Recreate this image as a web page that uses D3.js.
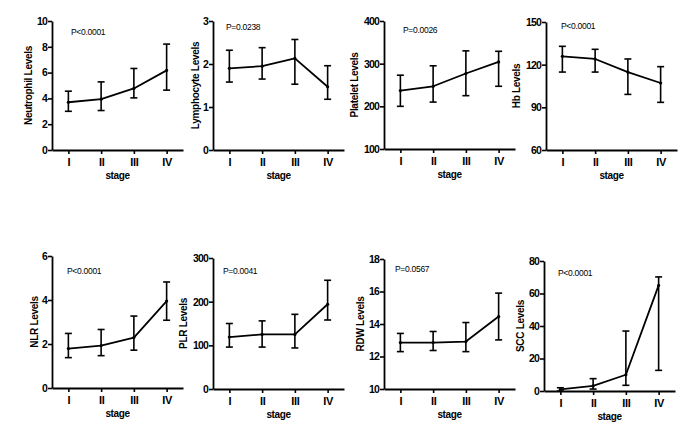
<!DOCTYPE html>
<html>
<head>
<meta charset="utf-8">
<script src="https://cdn.jsdelivr.net/npm/d3@7"></script>
<style>
  html, body { margin: 0; padding: 0; background: #fff; }
  svg { display: block; }
  text { font-family: "Liberation Sans", Arial, sans-serif; fill: #000; }
</style>
</head>
<body>
<svg id="chart" width="700" height="444"></svg>
<script>
// ---------- data ----------
const stages = ["I", "II", "III", "IV"];

const titles = ["Neutrophil Levels", "Lymphocyte Levels", "Platelet Levels", "Hb Levels",
                "NLR Levels", "PLR Levels", "RDW Levels", "SCC Levels"];
const pValues = ["P<0.0001", "P=0.0238", "P=0.0026", "P<0.0001",
                 "P<0.0001", "P=0.0041", "P=0.0567", "P<0.0001"];

const yDomains = [[0, 10], [0, 3], [100, 400], [60, 150],
                  [0, 6], [0, 300], [10, 18], [0, 80]];
const yTicks = [[0, 2, 4, 6, 8, 10], [0, 1, 2, 3], [100, 200, 300, 400], [60, 90, 120, 150],
                [0, 2, 4, 6], [0, 100, 200, 300], [10, 12, 14, 16, 18], [0, 20, 40, 60, 80]];

const neutrophilMean  = [3.70, 3.94, 4.77, 6.17];
const neutrophilUpper = [4.56, 5.28, 6.32, 8.21];
const neutrophilLower = [3.00, 3.06, 4.04, 4.64];

const lymphocyteMean  = [1.90, 1.95, 2.13, 1.47];
const lymphocyteUpper = [2.32, 2.38, 2.57, 1.96];
const lymphocyteLower = [1.58, 1.65, 1.53, 1.18];

const plateletMean  = [237, 247, 277, 304];
const plateletUpper = [273, 295, 330, 329];
const plateletLower = [200, 210, 225, 247];

const hbMean  = [125.9, 124.0, 114.8, 107.1];
const hbUpper = [132.9, 130.8, 124.0, 118.6];
const hbLower = [114.8, 114.8, 99.1, 93.5];

const nlrMean  = [1.79, 1.93, 2.29, 3.95];
const nlrUpper = [2.48, 2.66, 3.27, 4.82];
const nlrLower = [1.38, 1.47, 1.72, 3.08];

const plrMean  = [119, 125, 125, 194];
const plrUpper = [150, 156, 171, 249];
const plrLower = [96, 96, 94, 158];

const rdwMean  = [12.86, 12.86, 12.92, 14.46];
const rdwUpper = [13.42, 13.54, 14.09, 15.90];
const rdwLower = [12.30, 12.37, 12.30, 13.02];

const sccMean  = [1.0, 3.1, 10.0, 65.0];
const sccUpper = [2.0, 7.6, 36.9, 70.2];
const sccLower = [0.0, 1.2, 3.5, 12.7];

const means  = [neutrophilMean, lymphocyteMean, plateletMean, hbMean, nlrMean, plrMean, rdwMean, sccMean];
const uppers = [neutrophilUpper, lymphocyteUpper, plateletUpper, hbUpper, nlrUpper, plrUpper, rdwUpper, sccUpper];
const lowers = [neutrophilLower, lymphocyteLower, plateletLower, hbLower, nlrLower, plrLower, rdwLower, sccLower];

// ---------- layout (positions only) ----------
const panelLayout = [
  { left: 52,  top: 21,  bottom: 150, px: 19, py: 11 },
  { left: 213, top: 21,  bottom: 150, px: 13, py: 6 },
  { left: 384, top: 21,  bottom: 149, px: 19, py: 9 },
  { left: 546, top: 22,  bottom: 150, px: 15, py: 4 },
  { left: 52,  top: 256, bottom: 388, px: 15, py: 15 },
  { left: 213, top: 258, bottom: 389, px: 10, py: 13 },
  { left: 384, top: 259, bottom: 389, px: 11, py: 10 },
  { left: 544, top: 261, bottom: 391, px: 14, py: 12 }
];
const axisWidth = 131;

const svg = d3.select("#chart");

panelLayout.forEach((L, k) => {
  const g = svg.append("g").attr("transform", `translate(${L.left},0)`);
  const x = d3.scaleLinear().domain([0.5, 4.5]).range([0, axisWidth]);
  const y = d3.scaleLinear().domain(yDomains[k]).range([L.bottom, L.top]);

  // y axis
  const ya = g.append("g")
    .call(d3.axisLeft(y).tickValues(yTicks[k]).tickFormat(d => String(d))
      .tickSize(4).tickSizeOuter(0).tickPadding(1));
  // x axis
  const xa = g.append("g").attr("transform", `translate(0,${L.bottom})`)
    .call(d3.axisBottom(x).tickValues([1, 2, 3, 4]).tickFormat(i => stages[i - 1])
      .tickSize(4).tickSizeOuter(0).tickPadding(4));

  [ya, xa].forEach(a => {
    a.select(".domain").attr("stroke", "#000").attr("stroke-width", 1.8);
    a.selectAll(".tick line").attr("stroke", "#000").attr("stroke-width", 1.6);
    a.selectAll("text").attr("fill", "#000")
      .style("font-family", '"Liberation Sans", Arial, sans-serif')
      .style("font-weight", "bold");
  });
  ya.selectAll("text").style("font-size", "10.5px").style("letter-spacing", "-0.8px");
  xa.selectAll("text").style("font-size", "11px").style("letter-spacing", "-0.3px");

  // data
  const idx = [0, 1, 2, 3];
  const line = d3.line().x(i => x(i + 1)).y(i => y(means[k][i]));
  g.append("path").datum(idx).attr("d", line)
    .attr("fill", "none").attr("stroke", "#000").attr("stroke-width", 1.8)
    .attr("stroke-linejoin", "round");

  const eb = g.append("g").attr("stroke", "#000").attr("stroke-width", 1.6).attr("fill", "none");
  idx.forEach(i => {
    const cx = x(i + 1), yt = y(uppers[k][i]), yb = y(lowers[k][i]);
    eb.append("line").attr("x1", cx).attr("x2", cx).attr("y1", yt).attr("y2", yb);
    eb.append("line").attr("x1", cx - 3.5).attr("x2", cx + 3.5).attr("y1", yt).attr("y2", yt);
    eb.append("line").attr("x1", cx - 3.5).attr("x2", cx + 3.5).attr("y1", yb).attr("y2", yb);
    g.append("circle").attr("cx", cx).attr("cy", y(means[k][i])).attr("r", 1.6).attr("fill", "#000");
  });

  // y title
  const maxChars = d3.max(yTicks[k], t => String(t).length);
  const tx = -(12 + 6 * maxChars);
  const ty = (L.top + L.bottom) / 2;
  g.append("text")
    .attr("transform", `translate(${tx},${ty}) rotate(-90)`)
    .attr("text-anchor", "middle").attr("dy", "0.35em")
    .style("font-size", "10px").style("font-weight", "bold").style("letter-spacing", "-0.3px")
    .text(titles[k]);

  // x title
  g.append("text")
    .attr("x", x(2.5)).attr("y", L.bottom + 29)
    .attr("text-anchor", "middle")
    .style("font-size", "10px").style("font-weight", "bold").style("letter-spacing", "-0.4px")
    .text("stage");

  // p value
  g.append("text")
    .attr("x", L.px).attr("y", L.top + L.py).attr("dy", "0.35em")
    .style("font-size", "8.5px").style("letter-spacing", "-0.3px")
    .text(pValues[k]);
});
</script>
</body>
</html>
